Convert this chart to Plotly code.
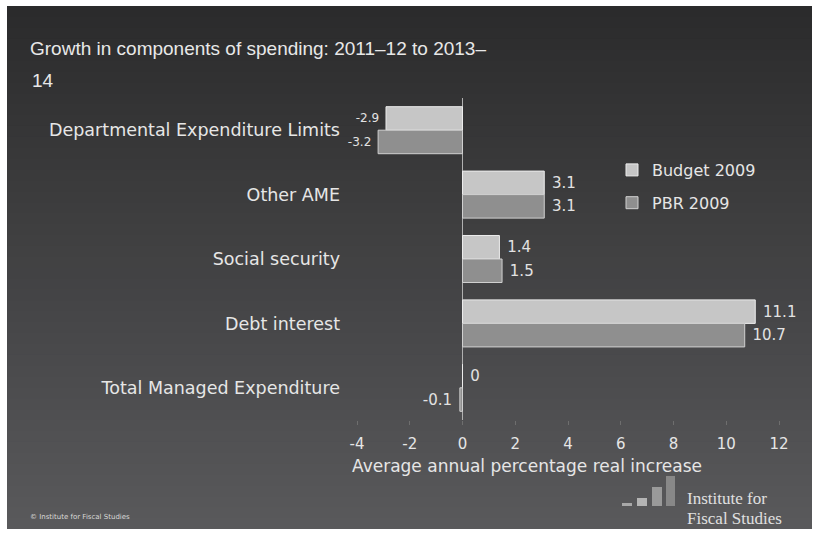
import plotly.graph_objects as go

categories = ["Departmental Expenditure Limits", "Other AME", "Social security",
              "Debt interest", "Total Managed Expenditure"]
budget_2009 = [-2.9, 3.1, 1.4, 11.1, 0]
pbr_2009 = [-3.2, 3.1, 1.5, 10.7, -0.1]
x_ticks = [-4, -2, 0, 2, 4, 6, 8, 10, 12]
label_sizes = [12, 15, 15, 15, 15]

W, H = 817, 534
L, R, T, B = 357, 779, 98, 420
PW, PH = R - L, B - T


def px(x):
    return (x - L) / PW


def py(y):
    return (B - y) / PH


def label(v):
    return (" " + str(v)) if v >= 0 else (str(v) + " ")


fig = go.Figure()
fig.add_trace(go.Bar(
    y=categories, x=budget_2009, orientation="h", name="Budget 2009",
    marker=dict(color="#c6c6c6", line=dict(color="#ececec", width=1)),
    text=[label(v) for v in budget_2009], textposition="outside",
    textfont=dict(color="#e2e2e2", size=label_sizes, family="DejaVu Sans"),
    cliponaxis=False, legendgroup="a",
))
fig.add_trace(go.Bar(
    y=categories, x=pbr_2009, orientation="h", name="PBR 2009",
    marker=dict(color="#8f8f8f", line=dict(color="#d0d0d0", width=1)),
    text=[label(v) for v in pbr_2009], textposition="outside",
    textfont=dict(color="#e2e2e2", size=label_sizes, family="DejaVu Sans"),
    cliponaxis=False, legendgroup="b",
))

shapes = []
# slide background gradient (white border outside); stacked bands avoid seams
x0p, x1p, y0p, y1p = 7, 812, 6, 529
n = 48
top_c = (43, 43, 44)
bot_c = (89, 89, 91)
for i in range(n):
    f = i / (n - 1)
    c = tuple(int(round(top_c[k] + (bot_c[k] - top_c[k]) * f)) for k in range(3))
    ya = y0p + (y1p - y0p) * i / n
    shapes.append(dict(type="rect", xref="paper", yref="paper", layer="below",
                       x0=px(x0p), x1=px(x1p), y0=py(ya), y1=py(y1p),
                       fillcolor="rgb(%d,%d,%d)" % c, line=dict(width=0)))
# IFS logo bars
logo = [(622, 632, 503, "#a8a8a8"), (637, 647, 498, "#b4b4b4"),
        (652, 662, 487, "#9a9a9a"), (666, 675, 476, "#888888")]
for a, b_, top, col in logo:
    shapes.append(dict(type="rect", xref="paper", yref="paper", layer="above",
                       x0=px(a), x1=px(b_), y0=py(506), y1=py(top),
                       fillcolor=col, line=dict(width=0)))

annotations = [
    dict(text="14", xref="paper", yref="paper",
         x=px(30), y=py(80), xanchor="left", yanchor="middle", showarrow=False,
         font=dict(family="Liberation Sans", size=19, color="#e8e8e8")),
    dict(text="Average annual percentage real increase", xref="paper", yref="paper",
         x=px(350), y=py(466), xanchor="left", yanchor="middle", showarrow=False,
         font=dict(family="DejaVu Sans", size=17, color="#e6e6e6")),
    dict(text="Institute for", xref="paper", yref="paper",
         x=px(685), y=py(498), xanchor="left", yanchor="middle", showarrow=False,
         font=dict(family="Liberation Serif", size=17, color="#e0e0e0")),
    dict(text="Fiscal Studies", xref="paper", yref="paper",
         x=px(685), y=py(518), xanchor="left", yanchor="middle", showarrow=False,
         font=dict(family="Liberation Serif", size=17, color="#e0e0e0")),
    dict(text="© Institute for Fiscal Studies", xref="paper", yref="paper",
         x=px(28), y=py(517), xanchor="left", yanchor="middle", showarrow=False,
         font=dict(family="DejaVu Sans", size=7, color="#d8d8d8")),
]

fig.update_layout(
    width=W, height=H,
    margin=dict(l=L, r=W - R, t=T, b=H - B, pad=0),
    paper_bgcolor="white", plot_bgcolor="rgba(0,0,0,0)",
    barmode="group", bargap=0.27, bargroupgap=0,
    title=dict(text="Growth in components of spending: 2011–12 to 2013–",
               x=30 / W, xanchor="left", xref="container",
               y=1 - 48 / H, yanchor="middle", yref="container",
               font=dict(family="Liberation Sans", size=19, color="#e8e8e8")),
    font=dict(family="DejaVu Sans", color="#e2e2e2"),
    xaxis=dict(range=[-4, 12], tickvals=x_ticks, ticktext=[str(v) for v in x_ticks],
               showgrid=False, zeroline=True, zerolinecolor="#b0b0b0", zerolinewidth=1,
               showline=False, ticks="outside", ticklen=4, tickcolor="#6e6e6e",
               ticklabelstandoff=6,
               tickfont=dict(family="DejaVu Sans", size=15, color="#e6e6e6")),
    yaxis=dict(autorange="reversed", showgrid=False, zeroline=False, showline=False,
               ticks="", ticklabelstandoff=16,
               tickfont=dict(family="DejaVu Sans", size=17.5, color="#e6e6e6")),
    legend=dict(x=px(612), y=py(153), xanchor="left", yanchor="top",
                bgcolor="rgba(0,0,0,0)", traceorder="grouped", tracegroupgap=9,
                font=dict(family="DejaVu Sans", size=16, color="#e6e6e6"),
                itemwidth=30),
    shapes=shapes, annotations=annotations,
)

fig.write_html("out.html")
